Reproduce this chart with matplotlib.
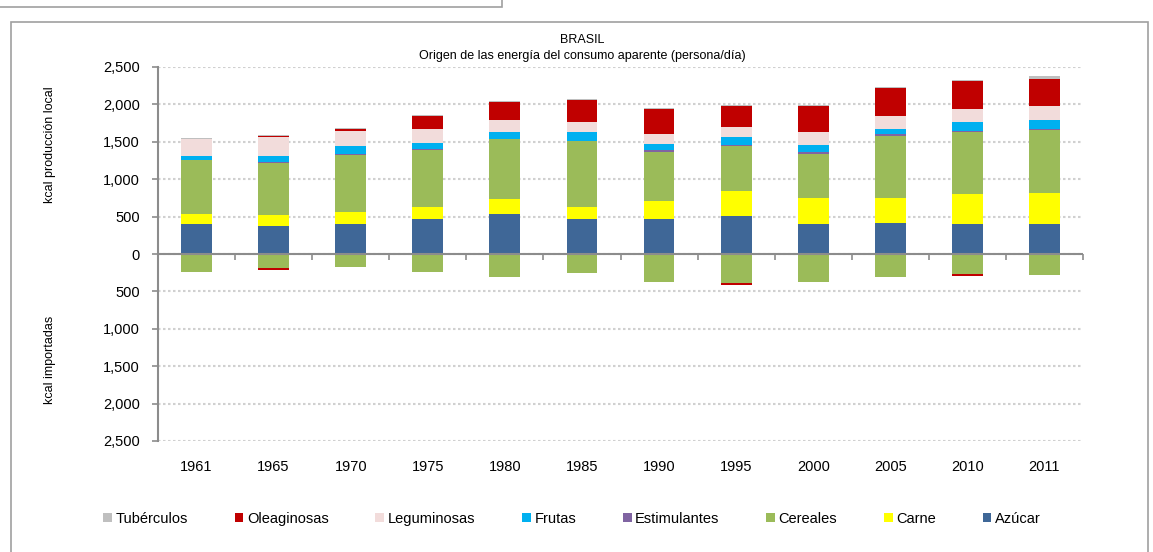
import numpy as np
import matplotlib
matplotlib.use("Agg")
import matplotlib.pyplot as plt
from matplotlib.patches import Rectangle
from matplotlib.ticker import FuncFormatter, MultipleLocator, FixedLocator, NullFormatter

plt.rcParams['font.family'] = ['Liberation Sans Narrow', 'Liberation Sans', 'DejaVu Sans']

years = ['1961', '1965', '1970', '1975', '1980', '1985', '1990', '1995', '2000', '2005', '2010', '2011']

# kcal producción local (persona/día)
azucar       = [395, 374, 397, 465, 540, 465, 465, 514, 397, 419, 397, 397]
carne        = [145, 144, 166, 170, 190, 170, 238, 333, 356, 334, 400, 423]
cereales     = [713, 703, 757, 762, 802, 874, 667, 595, 590, 828, 830, 834]
estimulantes = [5, 15, 18, 8, 8, 8, 22, 13, 18, 19, 18, 18]
frutas       = [58, 80, 104, 81, 91, 114, 73, 104, 98, 76, 125, 121]
leguminosas  = [220, 243, 207, 190, 162, 135, 139, 136, 168, 167, 162, 189]
oleaginosas  = [0, 22, 27, 167, 243, 288, 334, 287, 355, 379, 384, 356]
tuberculos   = [14, 14, 14, 14, 14, 14, 14, 14, 14, 14, 14, 40]

# kcal importadas (negativas)
cereales_imp    = [-234, -189, -180, -234, -311, -257, -378, -382, -373, -301, -261, -279]
oleaginosas_imp = [0, -30, 0, 0, 0, 0, 0, -32, 0, 0, -31, 0]

names = ['Azúcar', 'Carne', 'Cereales', 'Estimulantes', 'Frutas',
         'Leguminosas', 'Oleaginosas', 'Tubérculos']
colors = ['#3F6797', '#FFFF00', '#9BBB59', '#8064A2', '#00B0F0',
          '#F2DCDB', '#C00000', '#BFBFBF']
series = [azucar, carne, cereales, estimulantes, frutas,
          leguminosas, oleaginosas, tuberculos]

fig = plt.figure(figsize=(11.53, 5.52), dpi=100)
ax = fig.add_axes([158 / 1153, 1 - 441 / 552, (1083 - 158) / 1153, (441 - 67) / 552])

x = np.arange(len(years))
w = 0.4
bottom = np.zeros(len(years))
handles = []
for name, col, vals in zip(names, colors, series):
    h = ax.bar(x, vals, w, bottom=bottom, color=col, label=name, zorder=3)
    handles.append(h)
    bottom += np.array(vals)

neg = np.zeros(len(years))
ax.bar(x, cereales_imp, w, bottom=neg, color=colors[2], zorder=3)
neg += np.array(cereales_imp)
ax.bar(x, oleaginosas_imp, w, bottom=neg, color=colors[6], zorder=3)

ax.set_xlim(-0.5, len(years) - 0.5)
ax.set_ylim(-2500, 2500)
ax.yaxis.set_major_locator(MultipleLocator(500))
ax.yaxis.set_major_formatter(FuncFormatter(lambda v, p: f'{abs(v):,.0f}'))
ax.grid(axis='y', color='#D0D0D0', linestyle=(0, (1.2, 1.2)), linewidth=1.5, zorder=0)
ax.axhline(0, color='#8C8C8C', lw=1.5, zorder=4)

for s in ['top', 'right', 'bottom']:
    ax.spines[s].set_visible(False)
ax.spines['left'].set_color('#8C8C8C')
ax.spines['left'].set_linewidth(1.5)
ax.tick_params(axis='y', length=4, width=1.2, color='#8C8C8C', pad=9, labelsize=10.5)
ax.set_xticks(x)
ax.set_xticklabels(years)
ax.tick_params(axis='x', length=0, pad=14, labelsize=10.5)

# marcas entre categorías sobre el eje cero
sec = ax.secondary_xaxis(0.5)
for sp in sec.spines.values():
    sp.set_visible(False)
sec.xaxis.set_major_locator(FixedLocator(np.arange(-0.5, len(years), 1.0)))
sec.xaxis.set_major_formatter(NullFormatter())
sec.tick_params(axis='x', which='both', length=4, width=1.2, color='#8C8C8C',
                direction='in', labelbottom=False, labeltop=False)

fig.text(582 / 1153, 1 - 40 / 552, 'BRASIL', ha='center', va='center', fontsize=9)
fig.text(582 / 1153, 1 - 56 / 552, 'Origen de las energía del consumo aparente (persona/día)',
         ha='center', va='center', fontsize=9)
fig.text(50 / 1153, 1 - 145 / 552, 'kcal producción local', rotation=90,
         ha='center', va='center', fontsize=9)
fig.text(50 / 1153, 1 - 360 / 552, 'kcal importadas', rotation=90,
         ha='center', va='center', fontsize=9)

fig.legend(handles[::-1], names[::-1], loc='center', bbox_to_anchor=(572 / 1153, 1 - 519 / 552),
           ncol=8, frameon=False, fontsize=10.5, handlelength=0.6, handleheight=0.6,
           handletextpad=0.25, columnspacing=3.2)

fig.patches.append(Rectangle((11 / 1153, -0.01), (1148 - 11) / 1153, 1 - 22 / 552 + 0.01,
                             transform=fig.transFigure, fill=False, edgecolor='#A0A0A0', lw=1.2))
fig.patches.append(Rectangle((-0.01, 1 - 7 / 552), 502 / 1153 + 0.01, 0.02,
                             transform=fig.transFigure, fill=False, edgecolor='#A0A0A0', lw=1.2))

fig.savefig('out.png', dpi=100)
